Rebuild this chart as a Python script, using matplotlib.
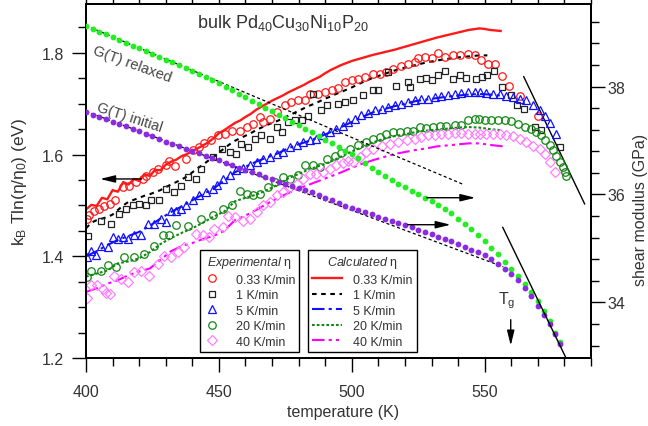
import numpy as np
import matplotlib
matplotlib.use("Agg")
import matplotlib.pyplot as plt
from matplotlib.lines import Line2D
from matplotlib.ticker import MultipleLocator

plt.rcParams["font.family"] = ["Liberation Sans", "DejaVu Sans"]
plt.rcParams["mathtext.fontset"] = "custom"
plt.rcParams["mathtext.rm"] = "Liberation Sans"
plt.rcParams["mathtext.it"] = "Liberation Sans:italic"

# ---- experimental eta (left axis, eV) ----
exp033_T = [400.3, 401.2, 403.1, 405.0, 406.9, 409.0, 411.0, 413.8, 416.3, 418.8, 421.3, 422.6, 425.1,
            427.0, 430.1, 431.3, 433.6, 437.6, 440.1, 442.6, 444.5, 447.2, 449.7, 452.3, 454.8, 457.9,
            460.4, 462.9, 465.4, 466.7, 469.2, 471.7, 474.8, 477.3, 479.8, 482.3, 484.2, 487.3, 489.8,
            492.4, 494.9, 497.4, 499.9, 502.4, 504.9, 508.0, 510.5, 513.0, 515.5, 518.7, 521.2, 523.7,
            525.0, 527.4, 530.0, 532.5, 535.0, 538.1, 540.6, 543.7, 546.2, 548.8, 551.3, 553.8, 556.5,
            559.1, 563.2, 570.0]
exp033_L = [1.474, 1.482, 1.490, 1.493, 1.499, 1.503, 1.510, 1.536, 1.539, 1.546, 1.552, 1.557, 1.566,
            1.572, 1.579, 1.588, 1.577, 1.592, 1.608, 1.615, 1.623, 1.628, 1.638, 1.641, 1.647, 1.647,
            1.654, 1.661, 1.674, 1.664, 1.670, 1.684, 1.697, 1.703, 1.707, 1.707, 1.720, 1.720, 1.723,
            1.727, 1.730, 1.743, 1.746, 1.749, 1.753, 1.759, 1.759, 1.762, 1.769, 1.775, 1.779, 1.782,
            1.790, 1.792, 1.789, 1.800, 1.792, 1.795, 1.795, 1.798, 1.795, 1.785, 1.779, 1.779, 1.755,
            1.735, 1.716, 1.676]

exp1_T = [400.6, 405.6, 409.4, 412.5, 415.0, 417.6, 420.0, 422.6, 424.4, 427.6, 430.1, 433.2, 435.7,
          438.2, 441.4, 443.2, 447.9, 451.0, 454.1, 456.6, 458.5, 461.0, 463.5, 466.0, 469.2, 471.7,
          473.6, 476.1, 478.6, 481.1, 483.6, 485.5, 488.6, 490.5, 494.9, 497.4, 500.5, 504.3, 508.0,
          509.9, 513.6, 516.8, 521.2, 521.8, 525.6, 528.1, 530.0, 532.5, 535.0, 538.1, 540.6, 543.1,
          546.8, 549.1, 550.9, 553.4, 556.6, 559.8, 562.3, 564.8, 568.8, 571.1, 578.2]
exp1_L = [1.440, 1.470, 1.464, 1.483, 1.493, 1.500, 1.503, 1.500, 1.510, 1.510, 1.533, 1.526, 1.539,
          1.556, 1.552, 1.572, 1.595, 1.611, 1.605, 1.602, 1.621, 1.615, 1.631, 1.638, 1.631, 1.654,
          1.644, 1.664, 1.668, 1.668, 1.676, 1.720, 1.688, 1.697, 1.700, 1.703, 1.708, 1.718, 1.727,
          1.727, 1.762, 1.735, 1.743, 1.733, 1.749, 1.750, 1.746, 1.757, 1.764, 1.748, 1.756, 1.750,
          1.748, 1.752, 1.757, 1.764, 1.732, 1.718, 1.697, 1.689, 1.654, 1.648, 1.614]

exp5_T = [400.3, 401.9, 403.8, 405.6, 408.2, 410.0, 411.9, 413.8, 415.7, 418.2, 420.7, 423.2, 425.7,
          428.2, 430.1, 432.0, 433.8, 435.7, 437.6, 440.1, 442.6, 445.1, 447.6, 449.1, 451.6, 454.1,
          456.6, 459.1, 461.7, 464.2, 466.7, 469.2, 471.7, 474.2, 476.7, 479.2, 481.7, 484.2, 486.7,
          489.2, 491.7, 494.2, 496.7, 498.6, 501.1, 503.6, 506.1, 508.6, 511.2, 513.6, 516.2, 518.7,
          521.2, 523.7, 526.2, 528.7, 531.2, 533.7, 536.2, 538.7, 541.2, 543.7, 546.2, 548.1, 550.6,
          553.1, 555.6, 558.2, 560.6, 563.2, 565.7, 568.2, 570.7, 572.8, 574.6, 576.8]
exp5_L = [1.398, 1.411, 1.403, 1.421, 1.418, 1.437, 1.434, 1.437, 1.434, 1.441, 1.441, 1.464, 1.464,
          1.474, 1.467, 1.490, 1.490, 1.493, 1.500, 1.510, 1.520, 1.526, 1.533, 1.540, 1.552, 1.559,
          1.569, 1.573, 1.579, 1.585, 1.592, 1.595, 1.602, 1.605, 1.615, 1.618, 1.625, 1.628, 1.631,
          1.639, 1.644, 1.651, 1.657, 1.664, 1.670, 1.677, 1.682, 1.687, 1.690, 1.693, 1.697, 1.700,
          1.703, 1.707, 1.710, 1.710, 1.713, 1.715, 1.717, 1.720, 1.721, 1.723, 1.723, 1.723, 1.721,
          1.720, 1.720, 1.716, 1.713, 1.710, 1.707, 1.697, 1.687, 1.676, 1.663, 1.641]

exp20_T = [400.3, 401.9, 405.6, 408.2, 411.3, 414.4, 418.2, 421.9, 425.7, 428.8, 431.3, 433.8, 438.2,
           443.2, 447.6, 451.6, 454.8, 457.9, 460.4, 462.9, 465.4, 468.5, 471.1, 474.2, 476.7, 479.8,
           482.3, 485.5, 488.0, 490.5, 493.6, 496.1, 499.2, 502.4, 505.5, 508.0, 510.5, 513.0, 515.5,
           518.0, 520.6, 523.0, 525.6, 528.1, 530.6, 533.1, 535.6, 538.7, 541.2, 543.7, 546.2, 548.0,
           550.0, 552.5, 555.0, 557.5, 560.0, 562.5, 565.0, 567.6, 569.4, 571.3, 572.6, 574.4, 575.7,
           577.0, 578.2, 579.4, 580.1, 580.7]
exp20_L = [1.360, 1.372, 1.372, 1.383, 1.379, 1.398, 1.398, 1.405, 1.421, 1.441, 1.441, 1.461, 1.459,
           1.474, 1.481, 1.493, 1.500, 1.528, 1.523, 1.520, 1.523, 1.536, 1.546, 1.556, 1.552, 1.559,
           1.579, 1.580, 1.575, 1.592, 1.598, 1.603, 1.611, 1.618, 1.625, 1.631, 1.634, 1.641, 1.644,
           1.645, 1.647, 1.647, 1.654, 1.652, 1.654, 1.656, 1.656, 1.659, 1.659, 1.667, 1.670, 1.669,
           1.668, 1.668, 1.668, 1.667, 1.665, 1.661, 1.654, 1.651, 1.644, 1.638, 1.628, 1.618, 1.608,
           1.598, 1.585, 1.575, 1.565, 1.557]

exp40_T = [400.5, 401.8, 404.2, 406.3, 407.5, 409.0, 410.6, 413.2, 415.7, 418.2, 420.7, 423.8, 427.0,
           429.4, 432.0, 434.5, 437.0, 441.4, 443.9, 446.4, 448.2, 451.6, 453.5, 456.0, 459.1, 461.7,
           464.2, 466.7, 469.2, 471.7, 474.2, 476.7, 479.2, 481.7, 484.2, 486.7, 489.2, 491.7, 494.2,
           496.7, 498.6, 500.5, 503.0, 505.5, 508.0, 511.2, 514.3, 517.4, 520.6, 523.7, 526.2, 528.7,
           531.2, 533.7, 536.2, 538.7, 541.2, 543.7, 546.2, 548.1, 550.6, 553.1, 555.6, 558.2, 560.6,
           563.2, 565.7, 568.2, 570.7, 572.6, 574.4, 576.3]
exp40_L = [1.317, 1.343, 1.343, 1.336, 1.328, 1.326, 1.362, 1.356, 1.349, 1.369, 1.372, 1.362, 1.385,
           1.401, 1.398, 1.408, 1.418, 1.444, 1.441, 1.437, 1.454, 1.457, 1.480, 1.477, 1.469, 1.474,
           1.487, 1.500, 1.506, 1.520, 1.526, 1.536, 1.543, 1.552, 1.562, 1.562, 1.566, 1.572, 1.579,
           1.583, 1.588, 1.585, 1.595, 1.605, 1.611, 1.617, 1.621, 1.624, 1.628, 1.631, 1.634, 1.638,
           1.638, 1.641, 1.641, 1.642, 1.643, 1.641, 1.641, 1.641, 1.641, 1.641, 1.641, 1.638, 1.636,
           1.631, 1.624, 1.617, 1.611, 1.602, 1.585, 1.565]

# ---- calculated eta (left axis, eV) ----
calc033_T = [400, 402, 404, 406, 408, 410, 412, 414, 416, 418, 420, 422, 424, 426, 428, 430, 432, 434,
             436, 438, 440, 442, 444, 446, 448, 450, 452, 454, 456, 458, 460, 462, 464, 466, 468, 470,
             472, 474, 476, 478, 480, 482, 484, 486, 488, 490, 492, 494, 496, 498, 500, 504, 508, 512,
             516, 520, 524, 528, 532, 536, 540, 544, 548, 550, 552, 556]
calc033_L = [1.492, 1.501, 1.499, 1.515, 1.512, 1.530, 1.527, 1.546, 1.541, 1.552, 1.548, 1.561, 1.558,
             1.570, 1.569, 1.580, 1.586, 1.590, 1.597, 1.601, 1.607, 1.612, 1.618, 1.624, 1.632, 1.642,
             1.648, 1.655, 1.662, 1.667, 1.674, 1.680, 1.688, 1.694, 1.700, 1.706, 1.711, 1.716, 1.722,
             1.727, 1.732, 1.737, 1.743, 1.748, 1.753, 1.760, 1.766, 1.771, 1.776, 1.780, 1.784, 1.790,
             1.796, 1.801, 1.806, 1.812, 1.818, 1.824, 1.830, 1.835, 1.840, 1.845, 1.848, 1.847, 1.845,
             1.843]

calc1_T = [400, 402, 404, 406, 408, 410, 412, 414, 416, 418, 420, 422, 424, 426, 428, 430, 432, 434,
           436, 438, 440, 442, 444, 446, 448, 450, 452, 454, 456, 458, 460, 462, 464, 466, 468, 470, 472,
           474, 476, 478, 480, 482, 484, 486, 488, 490, 492, 494, 496, 500, 504, 508, 512, 516, 520, 524,
           528, 532, 536, 540, 544, 548, 551]
calc1_L = [1.455, 1.466, 1.471, 1.474, 1.477, 1.482, 1.491, 1.500, 1.507, 1.511, 1.515, 1.519, 1.522,
           1.526, 1.530, 1.536, 1.541, 1.546, 1.551, 1.557, 1.565, 1.573, 1.580, 1.588, 1.595, 1.604,
           1.612, 1.620, 1.627, 1.632, 1.637, 1.642, 1.648, 1.653, 1.658, 1.662, 1.666, 1.671, 1.676,
           1.681, 1.686, 1.691, 1.696, 1.700, 1.705, 1.710, 1.714, 1.719, 1.723, 1.732, 1.742, 1.751,
           1.758, 1.765, 1.771, 1.776, 1.781, 1.785, 1.788, 1.791, 1.793, 1.795, 1.795]

calc5_T = [400, 404, 408, 412, 416, 420, 424, 428, 432, 436, 440, 444, 448, 452, 456, 460, 464, 468,
           472, 476, 480, 484, 488, 492, 496, 500, 504, 508, 512, 516, 520, 524, 528, 532, 536, 540, 544,
           548, 552, 556]
calc5_L = [1.400, 1.410, 1.422, 1.432, 1.440, 1.448, 1.460, 1.474, 1.487, 1.498, 1.510, 1.522, 1.533,
           1.549, 1.565, 1.576, 1.586, 1.594, 1.602, 1.612, 1.620, 1.627, 1.635, 1.644, 1.654, 1.664,
           1.674, 1.683, 1.689, 1.695, 1.700, 1.705, 1.708, 1.711, 1.714, 1.716, 1.718, 1.719, 1.718,
           1.716]

calc20_T = [400, 404, 408, 412, 416, 420, 424, 428, 432, 436, 440, 444, 448, 452, 456, 460, 464, 468,
            472, 476, 480, 484, 488, 492, 496, 500, 504, 508, 512, 516, 520, 524, 528, 532, 536, 540,
            544, 548, 552, 556]
calc20_L = [1.360, 1.366, 1.372, 1.386, 1.390, 1.396, 1.408, 1.424, 1.436, 1.446, 1.455, 1.466, 1.478,
            1.488, 1.508, 1.515, 1.521, 1.530, 1.540, 1.553, 1.562, 1.571, 1.578, 1.586, 1.596, 1.606,
            1.615, 1.624, 1.631, 1.636, 1.640, 1.644, 1.647, 1.649, 1.651, 1.653, 1.654, 1.653, 1.650,
            1.648]

calc40_T = [400, 404, 408, 412, 416, 420, 424, 428, 432, 436, 440, 444, 448, 452, 456, 460, 464, 468,
            472, 476, 480, 484, 488, 492, 496, 500, 504, 508, 512, 516, 520, 524, 528, 532, 536, 540,
            544, 548, 552, 557]
calc40_L = [1.330, 1.337, 1.346, 1.353, 1.363, 1.370, 1.376, 1.393, 1.410, 1.420, 1.426, 1.434, 1.440,
            1.450, 1.471, 1.480, 1.491, 1.503, 1.514, 1.524, 1.533, 1.541, 1.549, 1.557, 1.565, 1.574,
            1.582, 1.589, 1.595, 1.601, 1.605, 1.609, 1.612, 1.616, 1.618, 1.620, 1.622, 1.622, 1.619,
            1.616]

# ---- shear modulus (right axis, GPa) ----
g_relaxed_T = [400, 402.5, 405, 407.5, 410, 412.5, 415, 417.5, 420, 422.5, 425, 427.5, 430, 432.5,
               435, 437.5, 440, 442.5, 445, 447.5, 450, 452.5, 455, 457.5, 460, 462.5, 465, 467.5, 470,
               472.5, 475, 477.5, 480, 482.5, 485, 487.5, 490, 492.5, 495, 497.5, 500, 502.5, 505,
               507.5, 510, 512.5, 515, 517.5, 520, 522.5, 525, 527.5, 530, 532.5, 535, 537.5, 540,
               542.5, 545, 547.5, 550, 552.5, 555, 557.5, 560, 562.5, 565, 567.5, 570, 572.5, 574.5,
               576.5, 578.2]
g_relaxed = [39.12, 39.07, 39.02, 38.97, 38.92, 38.86, 38.81, 38.76, 38.71, 38.66, 38.61, 38.55, 38.50,
             38.45, 38.40, 38.34, 38.29, 38.23, 38.18, 38.12, 38.06, 38.00, 37.94, 37.87, 37.80, 37.74,
             37.68, 37.61, 37.55, 37.48, 37.42, 37.35, 37.28, 37.22, 37.15, 37.08, 37.01, 36.95, 36.88,
             36.81, 36.75, 36.67, 36.59, 36.50, 36.42, 36.34, 36.26, 36.19, 36.13, 36.07, 36.01, 35.94,
             35.88, 35.81, 35.74, 35.65, 35.55, 35.46, 35.36, 35.25, 35.13, 35.00, 34.89, 34.74, 34.62,
             34.49, 34.35, 34.19, 34.02, 33.84, 33.66, 33.44, 33.26]

g_initial_T = g_relaxed_T
g_initial = [37.52, 37.48, 37.44, 37.39, 37.35, 37.30, 37.26, 37.21, 37.17, 37.12, 37.08, 37.03, 36.98,
             36.94, 36.89, 36.85, 36.80, 36.76, 36.71, 36.67, 36.63, 36.58, 36.54, 36.50, 36.46, 36.42,
             36.38, 36.33, 36.28, 36.24, 36.20, 36.16, 36.12, 36.08, 36.04, 35.99, 35.94, 35.89, 35.84,
             35.79, 35.75, 35.71, 35.67, 35.63, 35.59, 35.55, 35.51, 35.47, 35.43, 35.39, 35.35, 35.30,
             35.26, 35.22, 35.18, 35.13, 35.08, 35.03, 34.98, 34.93, 34.87, 34.80, 34.71, 34.62, 34.53,
             34.41, 34.27, 34.11, 33.93, 33.76, 33.60, 33.42, 33.23]

# linear fits of G(T) (dashed) and the two tangents (solid)
fit_relaxed_T = [400, 541.8]
fit_relaxed_G = [39.13, 36.19]
fit_initial_T = [400, 557]
fit_initial_G = [37.54, 34.66]
tan_eta_T = [564.7, 587.6]
tan_eta_L = [1.753, 1.503]
tan_g_T = [556.8, 580.6]
tan_g_G = [35.39, 32.97]

rates = ["0.33 K/min", "1 K/min", "5 K/min", "20 K/min", "40 K/min"]

ink = "#333333"
c_red, c_blk, c_blu, c_grn, c_pnk, c_mag = "#ff1a1a", "#222222", "#1010ff", "#118811", "#ff80ff", "#ff00ff"

fig = plt.figure(figsize=(6.48, 4.27), dpi=100)
ax = fig.add_axes([86 / 648, 68 / 427, 505 / 648, 354 / 427])
ax2 = ax.twinx()

# calculated curves
calc_styles = [
    dict(color=c_red, lw=1.7, ls="-"),
    dict(color="k", lw=1.5, ls=(0, (2.2, 2.2))),
    dict(color=c_blu, lw=1.5, ls=(0, (6, 2, 1.5, 2))),
    dict(color=c_grn, lw=1.5, ls=(0, (1.3, 1.0))),
    dict(color=c_mag, lw=1.5, ls=(0, (6, 2, 1.5, 2, 1.5, 2))),
]
calc = [(calc033_T, calc033_L), (calc1_T, calc1_L), (calc5_T, calc5_L),
        (calc20_T, calc20_L), (calc40_T, calc40_L)]
for (t, l), st in zip(calc, calc_styles):
    ax.plot(t, l, zorder=2, **st)

# experimental points
exp_styles = [
    dict(marker="o", mec=c_red, ms=5.4),
    dict(marker="s", mec=c_blk, ms=5.0),
    dict(marker="^", mec=c_blu, ms=5.6),
    dict(marker="o", mec=c_grn, ms=5.4),
    dict(marker="D", mec=c_pnk, ms=4.6),
]
exps = [(exp033_T, exp033_L), (exp1_T, exp1_L), (exp5_T, exp5_L),
        (exp20_T, exp20_L), (exp40_T, exp40_L)]
for (t, l), st in zip(exps, exp_styles):
    ax.plot(t, l, ls="none", mfc="none", mew=0.9, zorder=3, **st)

ax.plot(tan_eta_T, tan_eta_L, color="k", lw=1.0)
ax.annotate("", xy=(405.3, 1.552), xytext=(420.8, 1.552),
            arrowprops=dict(arrowstyle="-|>,head_length=0.9,head_width=0.22", color="k", lw=1.0,
                            shrinkA=0, shrinkB=0))

# shear modulus
ax2.plot(fit_relaxed_T, fit_relaxed_G, color="k", lw=0.9, ls=(0, (2.5, 2)), zorder=2)
ax2.plot(fit_initial_T, fit_initial_G, color="k", lw=0.9, ls=(0, (2.5, 2)), zorder=2)
ax2.plot(g_relaxed_T, g_relaxed, ls="none", marker="o", ms=4.2, color="#22ee22", mec="none", zorder=3)
ax2.plot(g_initial_T, g_initial, ls="none", marker="o", ms=4.2, color="#8a2be2", mec="none", zorder=3)
ax2.plot(tan_g_T, tan_g_G, color="k", lw=1.0, zorder=4)
for y0, x0, x1 in [(35.94, 528.2, 546.5), (35.44, 521.0, 537.2)]:
    ax2.annotate("", xy=(x1, y0), xytext=(x0, y0),
                 arrowprops=dict(arrowstyle="-|>,head_length=0.9,head_width=0.22", color="k", lw=1.0,
                                 shrinkA=0, shrinkB=0))
ax2.annotate("", xy=(559.8, 33.20), xytext=(559.8, 33.68),
             arrowprops=dict(arrowstyle="-|>,head_length=0.9,head_width=0.22", color="k", lw=1.0,
                             shrinkA=0, shrinkB=0))
ax2.text(558.3, 34.05, r"T$_\mathrm{g}$", fontsize=11.5, color=ink, ha="center", va="center")

# annotations
ax2.text(0.39, 0.935, r"bulk Pd$_{40}$Cu$_{30}$Ni$_{10}$P$_{20}$", transform=ax.transAxes,
         fontsize=13, color=ink, ha="center", va="baseline")
ax.text(417.5, 1.779, "G(T) relaxed", rotation=-20, fontsize=10.5, color="#444444",
        ha="center", va="center", rotation_mode="anchor")
ax.text(416.5, 1.674, "G(T) initial", rotation=-18, fontsize=10.5, color="#444444",
        ha="center", va="center", rotation_mode="anchor")

# axes, ticks
ax.set_xlim(400, 590)
ax.set_ylim(1.2, 1.896)
ax2.set_ylim(32.97, 39.53)
ax.xaxis.set_major_locator(MultipleLocator(50))
ax.xaxis.set_minor_locator(MultipleLocator(10))
ax.yaxis.set_major_locator(MultipleLocator(0.2))
ax.yaxis.set_minor_locator(MultipleLocator(0.05))
ax2.yaxis.set_major_locator(MultipleLocator(2))
ax2.yaxis.set_minor_locator(MultipleLocator(0.4))
ax.yaxis.set_major_formatter(matplotlib.ticker.FormatStrFormatter("%.1f"))

for a in (ax, ax2):
    a.tick_params(which="major", direction="out", length=10, width=1.0, labelsize=11.5,
                  labelcolor=ink, color="k")
    a.tick_params(which="minor", direction="out", length=5.5, width=1.0, color="k")
    for s in a.spines.values():
        s.set_linewidth(1.3)
ax.tick_params(axis="x", pad=9)
ax.tick_params(axis="y", pad=6)
ax2.tick_params(axis="y", pad=2)

top = ax.secondary_xaxis("top")
top.xaxis.set_major_locator(MultipleLocator(10))
top.tick_params(which="major", direction="out", length=4, width=1.0, labeltop=False)
top.spines["top"].set_linewidth(1.3)

fig.text(343 / 648, 1 - 413 / 427, "temperature (K)", fontsize=11.5, color=ink, ha="center", va="center")
fig.text(20 / 648, 1 - 182 / 427, r"k$_\mathrm{B}$ Tln(η/η$_0$) (eV)", fontsize=12.5, color=ink,
         rotation=90, ha="center", va="center")
fig.text(641 / 648, 1 - 210 / 427, "shear modulus (GPa)", fontsize=11.5, color=ink,
         rotation=90, ha="center", va="center")

# legends
h_exp = [Line2D([], [], ls="none", mfc="none", mew=0.9, **st) for st in exp_styles]
h_calc = [Line2D([], [], **st) for st in calc_styles]
leg_kw = dict(loc="lower left", fontsize=9, title_fontsize=9, frameon=True, fancybox=False,
              edgecolor="k", framealpha=1, labelspacing=0.28, borderpad=0.35, borderaxespad=0)
leg1 = ax2.legend(h_exp, rates, title=r"$\mathit{Experimental}$ η", bbox_to_anchor=(0.2257, 0.017),
                  handlelength=1.2, handletextpad=1.3, **leg_kw)
leg1.get_frame().set_linewidth(1.0)
leg1.get_title().set_color(ink)
ax2.add_artist(leg1)
leg2 = ax2.legend(h_calc, rates, title=r"$\mathit{Calculated}$ η", bbox_to_anchor=(0.4396, 0.017),
                  handlelength=2.4, handletextpad=0.85, **leg_kw)
leg2.get_frame().set_linewidth(1.0)
leg2.get_title().set_color(ink)
for lg in (leg1, leg2):
    for t in lg.get_texts():
        t.set_color(ink)

fig.savefig("out.png", dpi=100)
